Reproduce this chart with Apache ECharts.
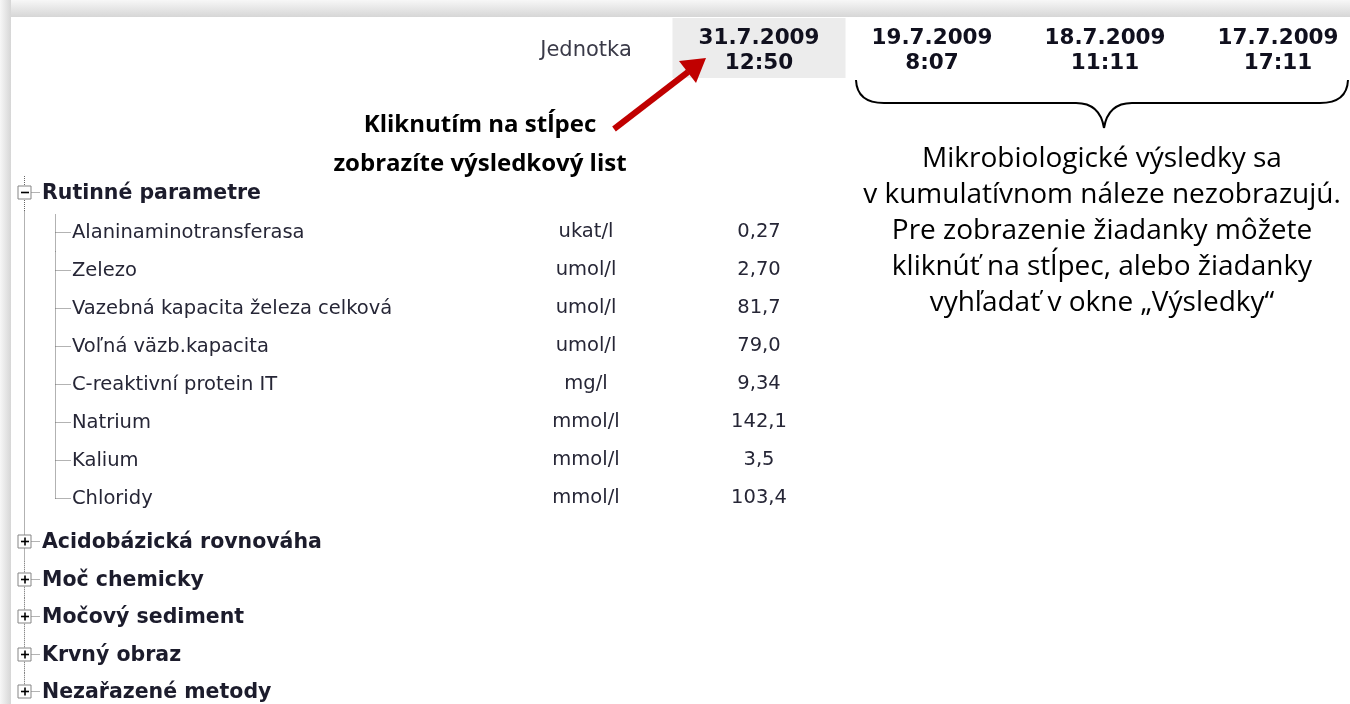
<!DOCTYPE html>
<html>
<head>
<meta charset="utf-8">
<script src="https://cdn.jsdelivr.net/npm/echarts@6/dist/echarts.min.js"></script>
<style>
html, body { margin: 0; padding: 0; background: #fff; }
#chart { width: 1350px; height: 704px; }
</style>
</head>
<body>
<div id="chart"></div>
<script>
// columns of the cumulative view (unit + result sheets)
const columns = ['Jednotka', '31.7.2009\n12:50', '19.7.2009\n8:07', '18.7.2009\n11:11', '17.7.2009\n17:11']
const selectedColumn = 1

const groups = ['Rutinné parametre', 'Acidobázická rovnováha', 'Moč chemicky', 'Močový sediment', 'Krvný obraz', 'Nezařazené metody']
const params = ['Alaninaminotransferasa', 'Zelezo', 'Vazebná kapacita železa celková', 'Voľná väzb.kapacita', 'C-reaktivní protein IT', 'Natrium', 'Kalium', 'Chloridy']
const units = ['ukat/l', 'umol/l', 'umol/l', 'umol/l', 'mg/l', 'mmol/l', 'mmol/l', 'mmol/l']
const values = [0.27, 2.70, 81.7, 79.0, 9.34, 142.1, 3.5, 103.4]
const decimals = [2, 2, 1, 1, 2, 1, 1, 1]

const hintLines = ['Kliknutím na stĺpec', 'zobrazíte výsledkový list']
const noteLines = [
	'Mikrobiologické výsledky sa',
	'v kumulatívnom náleze nezobrazujú.',
	'Pre zobrazenie žiadanky môžete',
	'kliknúť na stĺpec, alebo žiadanky',
	'vyhľadať v okne „Výsledky“'
]

// expanded group with its parameters, then the collapsed groups
const openRows = [{ name: groups[0], kind: 'open' }].concat(params.map(p => ({ name: p, kind: 'item' })))
const closedRows = groups.slice(1).map(g => ({ name: g, kind: 'closed' }))

const TREE_FONT = '"DejaVu Sans", sans-serif'
const NOTE_FONT = '"Open Sans", sans-serif'
const TRUNK_X = 24.5
const BRANCH_X = 55.5
// rows sit on the ticks of the category axes (boundaryGap false)
const OPEN_FIRST = 192
const OPEN_ROW = 38
const CLOSED_FIRST = 541
const CLOSED_ROW = 37.5

const fmt = (v, d) => v.toFixed(d).replace('.', ',')

const myChart = echarts.init(document.getElementById('chart'))

const dot = { stroke: '#666', lineWidth: 1, lineDash: [1, 1] }

function treeRenderer(rows, trunkStart, isLastBlock) {
	return function (p, api) {
		const i = api.value(1)
		const row = rows[i]
		const tick = Math.round(api.coord([0, i])[1]) + 0.5
		const h = api.size([0, 1])[1]
		const lastRow = isLastBlock && i === rows.length - 1
		const children = [{
			type: 'line',
			shape: { x1: TRUNK_X, y1: i === 0 ? trunkStart : tick - h / 2, x2: TRUNK_X, y2: lastRow ? tick : tick + h / 2 },
			style: dot
		}]
		if (row.kind === 'item') {
			const y = tick + 2
			const lastItem = i === rows.length - 1
			children.push({
				type: 'line',
				shape: { x1: BRANCH_X, y1: i === 1 ? tick - h / 2 + 3 : tick - h / 2 + 2, x2: BRANCH_X, y2: lastItem ? y : tick + h / 2 + 2 },
				style: dot
			})
			children.push({ type: 'line', shape: { x1: BRANCH_X, y1: y, x2: BRANCH_X + 15, y2: y }, style: dot })
			children.push({
				type: 'text',
				style: { x: 72, y: y, text: row.name, fontFamily: TREE_FONT, fontSize: 19.5, fill: '#262636', verticalAlign: 'middle' }
			})
		} else {
			const y = tick
			children.push({ type: 'line', shape: { x1: TRUNK_X + 6, y1: y, x2: 40, y2: y }, style: dot })
			children.push({
				type: 'rect',
				shape: { x: TRUNK_X - 6.5, y: y - 6.5, width: 13, height: 13 },
				style: { fill: '#fff', stroke: '#858585', lineWidth: 1 }
			})
			children.push({ type: 'line', shape: { x1: TRUNK_X - 3.5, y1: y, x2: TRUNK_X + 4.5, y2: y }, style: { stroke: '#000', lineWidth: 1.6 } })
			if (row.kind === 'closed') {
				children.push({ type: 'line', shape: { x1: TRUNK_X + 0.5, y1: y - 4, x2: TRUNK_X + 0.5, y2: y + 4 }, style: { stroke: '#000', lineWidth: 1.6 } })
			}
			children.push({
				type: 'text',
				style: { x: 42, y: y + 1, text: row.name, fontFamily: TREE_FONT, fontSize: 20.5, fontWeight: 'bold', fill: '#1c1c2c', verticalAlign: 'middle' }
			})
		}
		return { type: 'group', children: children }
	}
}

const plainLabel = { textBorderWidth: 0, textShadowBlur: 0 }
// scatter fades its items (and labels) by default, keep text fully opaque
const hiddenDot = { color: 'transparent', opacity: 1 }

const headerData = columns.map((c, i) => ({
	name: c,
	value: [i, 0.5],
	label: i === 0
		? { fontWeight: 'normal', fontSize: 21, color: '#3a3a48' }
		: { fontWeight: 'bold', fontSize: 21.5, color: '#10101e' }
}))

const cellData = []
params.forEach((p, k) => {
	cellData.push({ name: units[k], value: [0, k + 1] })
	cellData.push({ name: fmt(values[k], decimals[k]), value: [1, k + 1] })
})

const braceStyle = { stroke: '#000', lineWidth: 2, fill: null }
const brace = [
	{ type: 'bezierCurve', shape: { x1: 856, y1: 80, cpx1: 857, cpy1: 103, x2: 884, y2: 103 } },
	{ type: 'line', shape: { x1: 884, y1: 103, x2: 1076, y2: 103 } },
	{ type: 'bezierCurve', shape: { x1: 1076, y1: 103, cpx1: 1100, cpy1: 103, x2: 1104, y2: 128 } },
	{ type: 'bezierCurve', shape: { x1: 1104, y1: 128, cpx1: 1108, cpy1: 103, x2: 1132, y2: 103 } },
	{ type: 'line', shape: { x1: 1132, y1: 103, x2: 1320, y2: 103 } },
	{ type: 'bezierCurve', shape: { x1: 1320, y1: 103, cpx1: 1347, cpy1: 103, x2: 1348, y2: 80 } }
].map(el => Object.assign(el, { silent: true, z: 100, style: braceStyle }))

// columns sit on ticks too, 173px apart
const colGrid = { left: 586, width: 692 }

const option = {
	animation: false,
	backgroundColor: '#fff',
	grid: [
		Object.assign({ top: OPEN_FIRST, height: (openRows.length - 1) * OPEN_ROW }, colGrid),
		Object.assign({ top: 18, height: 60 }, colGrid),
		Object.assign({ top: CLOSED_FIRST, height: (closedRows.length - 1) * CLOSED_ROW }, colGrid)
	],
	xAxis: [0, 1, 2].map(g => ({ type: 'category', gridIndex: g, data: columns, boundaryGap: false, show: false })),
	yAxis: [
		{ type: 'category', gridIndex: 0, data: openRows.map(r => r.name), boundaryGap: false, inverse: true, show: false },
		{ type: 'value', gridIndex: 1, min: 0, max: 1, show: false },
		{ type: 'category', gridIndex: 2, data: closedRows.map(r => r.name), boundaryGap: false, inverse: true, show: false }
	],
	series: [
		{
			type: 'bar',
			xAxisIndex: 1,
			yAxisIndex: 1,
			barWidth: '100%',
			silent: true,
			itemStyle: { color: '#ececec' },
			data: columns.map((c, i) => (i === selectedColumn ? 1 : '-'))
		},
		{
			type: 'scatter',
			xAxisIndex: 1,
			yAxisIndex: 1,
			symbolSize: 1,
			silent: true,
			itemStyle: hiddenDot,
			label: Object.assign({ show: true, position: 'inside', offset: [0, 3], formatter: '{b}', fontFamily: TREE_FONT, lineHeight: 25, color: '#10101e' }, plainLabel),
			data: headerData,
			z: 3
		},
		{
			type: 'custom',
			xAxisIndex: 0,
			yAxisIndex: 0,
			renderItem: treeRenderer(openRows, OPEN_FIRST - 16, false),
			data: openRows.map((r, i) => [0, i])
		},
		{
			type: 'custom',
			xAxisIndex: 2,
			yAxisIndex: 2,
			renderItem: treeRenderer(closedRows, OPEN_FIRST + (openRows.length - 1) * OPEN_ROW + OPEN_ROW / 2 + 0.5, true),
			data: closedRows.map((r, i) => [0, i])
		},
		{
			type: 'scatter',
			xAxisIndex: 0,
			yAxisIndex: 0,
			symbolSize: 1,
			silent: true,
			itemStyle: hiddenDot,
			label: Object.assign({ show: true, position: 'inside', offset: [0, 2], formatter: '{b}', fontFamily: TREE_FONT, fontSize: 19.5, color: '#262636' }, plainLabel),
			data: cellData
		}
	],
	graphic: [
		// window shadow on top and left
		{
			type: 'rect', shape: { x: 0, y: 0, width: 1350, height: 17 }, silent: true, z: 100,
			style: { fill: new echarts.graphic.LinearGradient(0, 0, 0, 1, [{ offset: 0, color: '#f7f7f7' }, { offset: 1, color: '#d6d6d6' }]) }
		},
		{
			type: 'rect', shape: { x: 0, y: 0, width: 11, height: 704 }, silent: true, z: 100,
			style: { fill: new echarts.graphic.LinearGradient(0, 0, 1, 0, [{ offset: 0, color: '#f7f7f7' }, { offset: 1, color: '#d6d6d6' }]) }
		},
		// red arrow pointing to the selected column
		{
			type: 'line', silent: true, z: 100,
			shape: { x1: 614, y1: 129, x2: 688, y2: 72 },
			style: { stroke: '#c00000', lineWidth: 6 }
		},
		{
			type: 'polygon', silent: true, z: 100,
			shape: { points: [[706, 58], [696, 83], [679, 61]] },
			style: { fill: '#c00000' }
		},
		...brace,
		{
			type: 'text', silent: true, z: 100, x: 480, y: 145,
			style: { text: hintLines.join('\n'), fontFamily: NOTE_FONT, fontSize: 24, fontWeight: 'bold', fill: '#000', align: 'center', verticalAlign: 'middle', lineHeight: 39 }
		},
		{
			type: 'text', silent: true, z: 100, x: 1102, y: 231,
			style: { text: noteLines.join('\n'), fontFamily: NOTE_FONT, fontSize: 28, fill: '#000', align: 'center', verticalAlign: 'middle', lineHeight: 35.8 }
		}
	]
}

myChart.setOption(option)
window.addEventListener('resize', function () {
	myChart.resize()
})
</script>
</body>
</html>
